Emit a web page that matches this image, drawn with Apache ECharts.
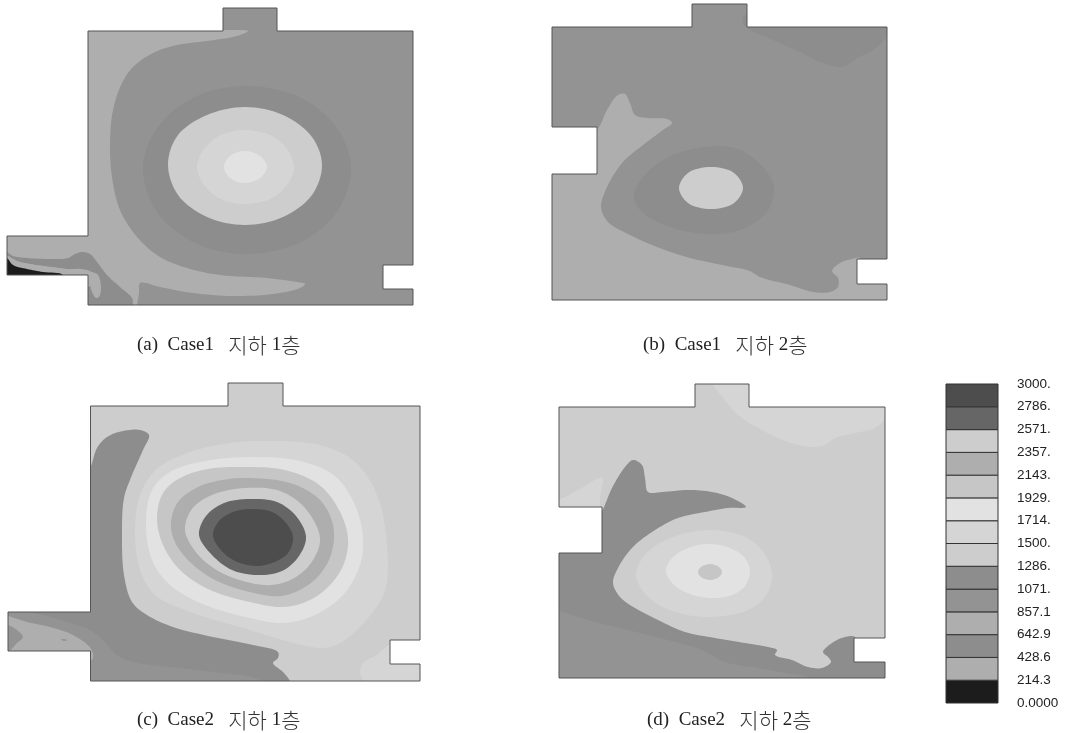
<!DOCTYPE html>
<html>
<head>
<meta charset="utf-8">
<style>html,body{margin:0;padding:0;background:#fff}#chart{width:1069px;height:733px}</style>
<script src="https://cdn.jsdelivr.net/npm/echarts@6/dist/echarts.min.js"></script>
</head>
<body>
<div id="chart"></div>
<script>
// legend
var legendValues = [0, 214.3, 428.6, 642.9, 857.1, 1071, 1286, 1500, 1714, 1929, 2143, 2357, 2571, 2786, 3000];
var legendLabels = ['0.0000', '214.3', '428.6', '642.9', '857.1', '1071.', '1286.', '1500.', '1714.', '1929.', '2143.', '2357.', '2571.', '2786.', '3000.'];
var levelColors = ['#1c1c1c', '#aeaeae', '#8d8d8d', '#aeaeae', '#939393', '#8d8d8d', '#cdcdcd', '#d5d5d5', '#e2e2e2', '#c6c6c6', '#aeaeae', '#cdcdcd', '#666666', '#4d4d4d'];
var captions = ['(a)  Case1   지하 1층', '(b)  Case1   지하 2층', '(c)  Case2   지하 1층', '(d)  Case2   지하 2층'];

// (a) Case1 B1
var outlineA = [[88,31],[223,31],[223,8],[277,8],[277,31],[413,31],[413,265],[383,265],[383,289],[413,289],[413,305],[88,305],[88,275],[7,275],[7,236],[88,236]];
var a3 = [[248,31],[237,36],[207,41],[177,45],[153,53],[133,67],[122,83],[113,110],[110,143],[112,177],[120,210],[137,237],[160,257],[187,268],[220,275],[267,278],[297,282],[305,284],[300,288],[273,294],[233,296],[193,293],[160,287],[140,283],[139,293],[137,305],[135,320],[-10,320],[-10,225],[70,225],[70,30],[223,30]];
var a5 = [[351,168],[337,212],[299,243],[245,254],[195,243],[157,212],[143,168],[157,128],[195,97],[245,86],[299,97],[337,128]];
var a6 = [[322,165],[312,195],[283,217],[245,225],[207,217],[178,195],[168,164],[178,135],[207,115],[245,107],[283,115],[312,137]];
var a7 = [[294,167],[287,185],[270,199],[245,204],[221,199],[204,185],[197,167],[204,149],[221,135],[245,130],[270,135],[287,149]];
var a8 = [[267,167],[260,178],[245,183],[230,178],[224,167],[230,156],[245,151],[260,156]];
var a2 = [[0,249],[7,252],[13,256],[27,258],[50,259],[68,258],[75,254],[82,252],[90,254],[97,262],[107,275],[120,287],[132,298],[133,305],[133,312],[85,312],[85,271],[67,269],[43,266],[20,262],[0,254]];
var a1 = [[0,254],[20,262],[43,266],[67,269],[88,271],[92,285],[0,285]];
var a0 = [[0,255],[7,258],[13,265],[27,269],[43,272],[63,275],[63,285],[0,285]];
var a3b = [[85,270],[92,272],[98,275],[101,288],[99,297],[96,298],[92,292],[89,282],[85,276]];

// (b) Case1 B2
var outlineB = [[552,27],[692,27],[692,4],[747,4],[747,27],[887,27],[887,259],[857,259],[857,284],[887,284],[887,300],[552,300],[552,174],[597,174],[597,127],[552,127]];
var b5top = [[744,25],[773,40],[800,52],[823,63],[843,67],[857,58],[873,50],[887,37],[897,20],[745,15]];
var b3 = [[599,127],[607,110],[618,95],[625,94],[630,103],[635,115],[647,118],[667,119],[672,123],[663,130],[643,145],[623,162],[608,185],[601,207],[608,222],[630,235],[657,247],[690,258],[727,266],[750,271],[760,277],[790,285],[813,292],[830,292],[838,287],[838,278],[832,271],[840,263],[852,259],[860,258],[865,280],[897,284],[897,312],[540,312],[540,160],[590,135]];
var b5 = [[774,188],[767,212],[740,230],[710,234],[673,228],[643,213],[634,197],[643,177],[673,155],[717,146],[740,150],[763,167]];
var b6 = [[743,188],[734,203],[711,209],[688,203],[679,188],[688,173],[711,167],[734,173]];

// (c) Case2 B1
var outlineC = [[90.5,406],[228,406],[228,383],[283,383],[283,406],[420,406],[420,640],[390,640],[390,664],[420,664],[420,681],[90.5,681],[90.5,651],[8,651],[8,612],[90.5,612]];
var c5 = [[91,466],[97,448],[107,437],[123,431],[140,430],[149,435],[143,450],[132,475],[124,498],[122,535],[124,575],[132,602],[147,615],[173,627],[213,637],[253,645],[278,652],[278,658],[273,663],[283,672],[290,681],[295,692],[-5,692],[-5,600],[80,600],[84,480]];
var c4 = [[8,610],[43,615],[67,622],[90,630],[103,640],[117,655],[133,662],[170,667],[213,672],[260,680],[270,692],[-5,692],[-5,610]];
var c3 = [[0,615],[8,616],[27,622],[50,627],[73,635],[91,649],[92,660],[0,660]];
var c4b = [[0,624],[8,625],[17,630],[23,637],[17,643],[9,651],[0,653]];
var c4c = [[61,639.5],[64,639],[67,640],[64,641]];
var c7 = [[267,441],[320,445],[355,462],[377,495],[387,545],[385,590],[368,618],[342,642],[323,648],[290,642],[250,630],[190,612],[155,595],[140,570],[135,532],[140,495],[158,468],[190,452],[230,443]];
var c8 = [[253,457],[300,461],[335,476],[355,505],[363,538],[360,565],[343,595],[315,615],[283,623],[250,618],[205,605],[170,585],[152,560],[146,522],[152,490],[170,472],[205,461]];
var c9 = [[243,467],[285,470],[318,484],[338,508],[348,538],[343,566],[325,590],[303,603],[280,607],[250,602],[210,590],[180,570],[163,545],[157,518],[163,493],[180,478],[208,469]];
var c10 = [[250,478],[290,483],[318,498],[331,518],[334,538],[328,562],[311,583],[282,596],[250,592],[215,580],[188,560],[174,540],[171,522],[178,502],[198,487],[222,480]];
var c11 = [[320,538],[313,560],[296,577],[272,585],[243,581],[215,569],[195,551],[185,530],[192,509],[212,495],[245,488],[280,491],[305,508]];
var c12 = [[306,537],[299,556],[282,571],[258,575],[232,570],[212,555],[199,535],[206,516],[224,503],[250,499],[277,502],[296,516]];
var c13 = [[293,537],[288,553],[272,563],[255,566],[235,561],[220,549],[213,535],[219,521],[233,512],[250,509],[272,512],[286,523]];
var c7b = [[389,645],[377,655],[363,663],[360,672],[363,681],[365,690],[430,690],[430,660],[395,645]];

// (d) Case2 B2
var outlineD = [[559,407],[695,407],[695,384],[749,384],[749,407],[885,407],[885,638],[854,638],[854,662],[885,662],[885,678],[559,678],[559,553],[602,553],[602,507],[559,507]];
var d7top = [[713,385],[725,400],[738,415],[762,430],[788,442],[812,447],[825,445],[835,438],[855,433],[875,428],[885,418],[897,375],[705,370]];
var d7left = [[550,503],[559,500],[578,490],[602,478],[600,497],[598,510],[550,512]];
var d5 = [[604,507],[612,488],[625,467],[633,460],[642,465],[645,478],[648,492],[662,492],[688,490],[712,492],[732,498],[746,507],[728,508],[705,512],[678,518],[652,532],[632,548],[618,568],[613,583],[620,597],[635,608],[658,620],[685,632],[715,638],[745,643],[768,647],[777,650],[775,655],[792,660],[808,667],[822,668],[831,662],[828,657],[823,652],[832,643],[845,637],[855,637],[860,660],[897,662],[897,690],[548,690],[548,545],[598,540],[600,515]];
var d4 = [[550,610],[562,612],[588,620],[628,630],[668,640],[702,650],[725,662],[758,668],[785,673],[808,678],[815,692],[550,692]];
var d7 = [[772,573],[767,594],[748,610],[708,617],[672,611],[648,597],[636,575],[645,555],[668,539],[708,530],[745,537],[764,553]];
var d8 = [[750,571],[745,586],[732,595],[712,598],[690,594],[673,584],[666,571],[672,558],[688,548],[708,544],[730,548],[745,558]];
var d9 = [[722,572],[719,577],[710,580],[701,577],[698,572],[701,567],[710,564],[719,567]];

// [level, contour] drawn in order, base fill first
var panelA = [[4, outlineA], [3, a3], [5, a5], [6, a6], [7, a7], [8, a8], [2, a2], [1, a1], [0, a0], [3, a3b]];
var panelB = [[4, outlineB], [5, b5top], [3, b3], [5, b5], [6, b6]];
var panelC = [[6, outlineC], [7, c7], [8, c8], [9, c9], [10, c10], [11, c11], [12, c12], [13, c13], [7, c7b], [5, c5], [4, c4], [3, c3], [4, c4b], [4, c4c]];
var panelD = [[6, outlineD], [7, d7top], [7, d7left], [5, d5], [4, d4], [7, d7], [8, d8], [9, d9]];

var myChart = echarts.init(document.getElementById('chart'));

// closed centripetal catmull-rom through the traced contour points
function spline(pts) {
    var out = [], n = pts.length;
    function t(a, b, ti) {
        var dx = b[0] - a[0], dy = b[1] - a[1];
        return ti + Math.max(Math.pow(dx * dx + dy * dy, 0.25), 1e-3);
    }
    function lerp(a, b, ta, tb, u) {
        var k = (u - ta) / (tb - ta);
        return [a[0] + (b[0] - a[0]) * k, a[1] + (b[1] - a[1]) * k];
    }
    for (var i = 0; i < n; i++) {
        var p0 = pts[(i + n - 1) % n], p1 = pts[i], p2 = pts[(i + 1) % n], p3 = pts[(i + 2) % n];
        var t0 = 0, t1 = t(p0, p1, t0), t2 = t(p1, p2, t1), t3 = t(p2, p3, t2);
        for (var s = 0; s < 8; s++) {
            var u = t1 + (t2 - t1) * s / 8;
            var a1 = lerp(p0, p1, t0, t1, u), a2 = lerp(p1, p2, t1, t2, u), a3 = lerp(p2, p3, t2, t3, u);
            var b1 = lerp(a1, a2, t0, t2, u), b2 = lerp(a2, a3, t1, t3, u);
            out.push(lerp(b1, b2, t1, t2, u));
        }
    }
    return out;
}

function contourSeries(layers, outline) {
    return {
        type: 'custom',
        xAxisIndex: 0,
        yAxisIndex: 0,
        coordinateSystem: 'cartesian2d',
        silent: true,
        clip: false,
        animation: false,
        data: layers.map(function (l, i) { return [i]; }).concat([[layers.length]]),
        renderItem: function (params, api) {
            var i = api.value(0);
            var outlinePx = outline.map(function (p) { return api.coord(p); });
            if (i === layers.length) {
                return {
                    type: 'polygon',
                    shape: {points: outlinePx},
                    style: {fill: 'none', stroke: '#555', lineWidth: 1}
                };
            }
            var pts = layers[i][1].map(function (p) { return api.coord(p); });
            return {
                type: 'polygon',
                shape: {points: layers[i][1] === outline ? pts : spline(pts)},
                clipPath: {type: 'polygon', shape: {points: outlinePx}},
                style: {fill: levelColors[layers[i][0]], stroke: null}
            };
        }
    };
}

// hangul is set a bit larger than the latin part, as in the scanned captions
function captionText(str) {
    return str.replace(/[가-힣]+|[^가-힣]+/g, function (s) {
        return (/[가-힣]/.test(s) ? '{k|' : '{l|') + s + '}';
    });
}

function caption(i, left, top) {
    return {
        type: 'text', left: left, top: top,
        style: {
            text: captionText(captions[i]),
            rich: {
                l: {fontFamily: 'Liberation Serif', fontSize: 19, fill: '#222', color: '#222'},
                k: {fontFamily: 'Noto Sans CJK KR', fontSize: 21, fontWeight: 300, fill: '#333', color: '#333'}
            }
        }
    };
}

var bandData = levelColors.map(function (c, i) { return [legendValues[i], legendValues[i + 1], i]; });

myChart.setOption({
    animation: false,
    backgroundColor: '#fff',
    grid: [
        {left: 0, top: 0, width: 1069, height: 733},
        {left: 946, top: 384, width: 52, height: 319}
    ],
    xAxis: [
        {type: 'value', min: 0, max: 1069, show: false, gridIndex: 0},
        {type: 'value', min: 0, max: 1, show: false, gridIndex: 1}
    ],
    yAxis: [
        {type: 'value', min: 0, max: 733, inverse: true, show: false, gridIndex: 0},
        {
            type: 'value', min: 0, max: 3000, gridIndex: 1, position: 'right',
            axisLine: {show: false},
            axisTick: {show: false},
            splitLine: {show: false},
            axisLabel: {
                customValues: legendValues,
                margin: 19,
                align: 'left',
                color: '#222',
                fontFamily: '"Liberation Sans", Arial, sans-serif',
                fontSize: 13.5,
                formatter: function (v) { return legendLabels[legendValues.indexOf(v)]; }
            }
        }
    ],
    graphic: [
        caption(0, 137, 335),
        caption(1, 643, 335),
        caption(2, 137, 710),
        caption(3, 647, 710)
    ],
    series: [
        contourSeries(panelA, outlineA),
        contourSeries(panelB, outlineB),
        contourSeries(panelC, outlineC),
        contourSeries(panelD, outlineD),
        {
            type: 'custom',
            xAxisIndex: 1,
            yAxisIndex: 1,
            silent: true,
            data: bandData,
            encode: {y: [0, 1]},
            renderItem: function (params, api) {
                var a = api.coord([0, api.value(1)]);
                var b = api.coord([1, api.value(0)]);
                return {
                    type: 'rect',
                    shape: {x: a[0], y: a[1], width: b[0] - a[0], height: b[1] - a[1]},
                    style: {fill: levelColors[api.value(2)], stroke: '#333', lineWidth: 1}
                };
            }
        }
    ]
});
</script>
</body>
</html>
